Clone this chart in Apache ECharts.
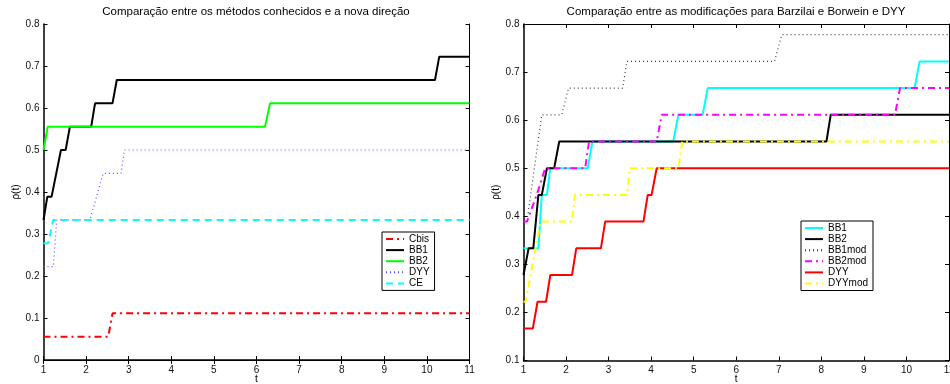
<!DOCTYPE html>
<html>
<head>
<meta charset="utf-8">
<script src="https://cdn.jsdelivr.net/npm/echarts@6/dist/echarts.min.js"></script>
<style>
html, body { margin: 0; padding: 0; background: #fff; }
#main { width: 950px; height: 384px; }
</style>
</head>
<body>
<div id="main"></div>
<script>
// Left chart: known methods vs the new direction (t, rho(t))
var cbis = [[1, 0.0556], [2.52, 0.0556], [2.62, 0.1111], [11, 0.1111]];
var bb1 = [[1, 0.3333], [1.09, 0.3889], [1.19, 0.3889], [1.41, 0.5], [1.52, 0.5], [1.62, 0.5556],
           [2.12, 0.5556], [2.21, 0.6111], [2.62, 0.6111], [2.72, 0.6667], [10.19, 0.6667], [10.29, 0.7222], [11, 0.7222]];
var bb2 = [[1, 0.5], [1.1, 0.5556], [6.2, 0.5556], [6.32, 0.6111], [11, 0.6111]];
var dyy = [[1, 0.2222], [1.23, 0.2222], [1.31, 0.3333], [2.09, 0.3333], [2.4, 0.4444], [2.82, 0.4444], [2.9, 0.5], [11, 0.5]];
var ce = [[1, 0.2778], [1.11, 0.2778], [1.23, 0.3333], [11, 0.3333]];

// Right chart: modifications for Barzilai-Borwein and DYY
var rBB1 = [[1, 0.3333], [1.35, 0.3333], [1.43, 0.4444], [1.55, 0.4444], [1.63, 0.5], [2.51, 0.5], [2.62, 0.5556],
            [4.52, 0.5556], [4.64, 0.6111], [5.21, 0.6111], [5.33, 0.6667], [10.19, 0.6667], [10.31, 0.7222], [11, 0.7222]];
var rBB2 = [[1, 0.2778], [1.12, 0.3333], [1.23, 0.3333], [1.35, 0.4444], [1.43, 0.4444], [1.55, 0.5], [1.72, 0.5],
            [1.84, 0.5556], [8.12, 0.5556], [8.22, 0.6111], [11, 0.6111]];
var rBB1mod = [[1, 0.3889], [1.08, 0.3889], [1.43, 0.6111], [1.9, 0.6111], [2.06, 0.6667], [3.33, 0.6667],
               [3.43, 0.7222], [6.9, 0.7222], [7.07, 0.7778], [11, 0.7778]];
var rBB2mod = [[1, 0.3889], [1.08, 0.3889], [1.31, 0.4444], [1.51, 0.5], [2.45, 0.5], [2.54, 0.5556],
               [4.13, 0.5556], [4.25, 0.6111], [9.73, 0.6111], [9.85, 0.6667], [11, 0.6667]];
var rDYY = [[1, 0.1667], [1.22, 0.1667], [1.33, 0.2222], [1.53, 0.2222], [1.63, 0.2778], [2.14, 0.2778], [2.24, 0.3333],
            [2.82, 0.3333], [2.92, 0.3889], [3.82, 0.3889], [3.92, 0.4444], [4.01, 0.4444], [4.13, 0.5], [11, 0.5]];
var rDYYmod = [[1, 0.2222], [1.05, 0.2222], [1.4, 0.3889], [2.14, 0.3889], [2.21, 0.4444], [3.43, 0.4444],
               [3.5, 0.5], [4.64, 0.5], [4.73, 0.5556], [11, 0.5556]];

var leftNames = ['Cbis', 'BB1', 'BB2', 'DYY', 'CE'];
// trailing space keeps the right chart's series apart from the left ones with the same label
var rightNames = ['BB1 ', 'BB2 ', 'BB1mod', 'BB2mod', 'DYY ', 'DYYmod'];

var FONT = '"Liberation Sans", Arial, sans-serif';

function xAxes(grid) {
    return [
        {
            gridIndex: grid, type: 'value', min: 1, max: 11, interval: 1,
            name: 't', nameLocation: 'middle', nameGap: 14, nameMoveOverlap: false,
            nameTextStyle: { fontFamily: FONT, fontSize: 10, color: '#000' },
            axisLine: { lineStyle: { color: '#000', width: 1.5 } },
            axisTick: { inside: true, length: 4, lineStyle: { color: '#000' } },
            axisLabel: { fontFamily: FONT, fontSize: 10, color: '#111', margin: 5 },
            splitLine: { show: false }
        },
        {
            gridIndex: grid, type: 'value', min: 1, max: 11, interval: 1, position: 'top',
            axisLine: { lineStyle: { color: '#000', width: 1 } },
            axisTick: { inside: true, length: 4, lineStyle: { color: '#000' } },
            axisLabel: { show: false },
            splitLine: { show: false }
        }
    ];
}

function yAxes(grid, min) {
    return [
        {
            gridIndex: grid, type: 'value', min: min, max: 0.8, interval: 0.1,
            name: 'ρ(t)', nameLocation: 'middle', nameGap: 22, nameMoveOverlap: false,
            nameTextStyle: { fontFamily: FONT, fontSize: 10, color: '#000' },
            axisLine: { lineStyle: { color: '#000', width: 1.5 } },
            axisTick: { inside: true, length: 4, lineStyle: { color: '#000' } },
            axisLabel: { fontFamily: FONT, fontSize: 10, color: '#111', margin: 4,
                formatter: function (v) { return +v.toFixed(1) + ''; } },
            splitLine: { show: false }
        },
        {
            gridIndex: grid, type: 'value', min: min, max: 0.8, interval: 0.1, position: 'right',
            axisLine: { lineStyle: { color: '#000', width: 1 } },
            axisTick: { inside: true, length: 4, lineStyle: { color: '#000' } },
            axisLabel: { show: false },
            splitLine: { show: false }
        }
    ];
}

function line(name, data, grid, color, width, type) {
    return {
        name: name, type: 'line', data: data,
        xAxisIndex: grid * 2, yAxisIndex: grid * 2,
        symbol: 'none', animation: false,
        lineStyle: { color: color, width: width, type: type },
        itemStyle: { color: color }
    };
}

function legendBox(names, left, top) {
    return {
        data: names, orient: 'vertical', left: left, top: top,
        itemWidth: 18, itemHeight: 8, itemGap: 1.1, padding: [2, 5, 2, 3],
        borderColor: '#000', borderWidth: 1, backgroundColor: '#fff',
        itemStyle: { opacity: 0 },
        formatter: function (n) { return n.trim(); },
        textStyle: { fontFamily: FONT, fontSize: 10, color: '#000' }
    };
}

var myChart = echarts.init(document.getElementById('main'));
var option = {
    backgroundColor: '#fff',
    animation: false,
    title: [
        { text: 'Comparação entre os métodos conhecidos e a nova direção', left: 256, top: 6, padding: 0, textAlign: 'center',
          textStyle: { fontFamily: FONT, fontSize: 11.5, fontWeight: 'normal', color: '#000' } },
        { text: 'Comparação entre as modificações para Barzilai e Borwein e DYY', left: 736, top: 6, padding: 0, textAlign: 'center',
          textStyle: { fontFamily: FONT, fontSize: 11.5, fontWeight: 'normal', color: '#000' } }
    ],
    grid: [
        { left: 43.5, right: 480.5, top: 24, bottom: 24, outerBoundsMode: 'none' },
        { left: 523.5, right: 1, top: 24, bottom: 23.5, outerBoundsMode: 'none' }
    ],
    xAxis: xAxes(0).concat(xAxes(1)),
    yAxis: yAxes(0, 0).concat(yAxes(1, 0.1)),
    legend: [legendBox(leftNames, 382, 232), legendBox(rightNames, 801, 221)],
    series: [
        line('Cbis', cbis, 0, '#ff0000', 2, [7, 4, 2, 4]),
        line('BB1', bb1, 0, '#000000', 2, 'solid'),
        line('BB2', bb2, 0, '#00ff00', 2, 'solid'),
        line('DYY', dyy, 0, '#5555ff', 1.2, [1, 3]),
        line('CE', ce, 0, '#00ffff', 2, [7, 5]),
        line('BB1 ', rBB1, 1, '#00ffff', 2, 'solid'),
        line('BB2 ', rBB2, 1, '#000000', 2, 'solid'),
        line('BB1mod', rBB1mod, 1, '#444444', 1.2, [1, 3]),
        line('BB2mod', rBB2mod, 1, '#ff00ff', 2, [7, 4, 2, 4]),
        line('DYY ', rDYY, 1, '#ff0000', 2, 'solid'),
        line('DYYmod', rDYYmod, 1, '#ffff00', 2, [7, 4, 2, 4])
    ]
};
myChart.setOption(option);
</script>
</body>
</html>
